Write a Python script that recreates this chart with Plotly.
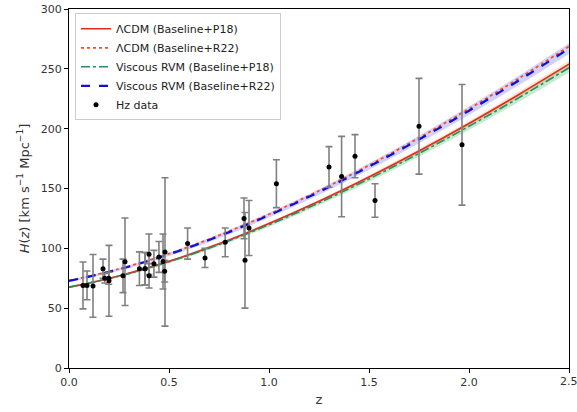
import plotly.graph_objects as go

# Hz (cosmic chronometer) data
z_data = [0.07, 0.09, 0.12, 0.17, 0.179, 0.199, 0.20, 0.27, 0.28, 0.352, 0.38, 0.3802,
          0.40, 0.4004, 0.4247, 0.4497, 0.47, 0.4783, 0.48, 0.593, 0.68, 0.781, 0.875,
          0.88, 0.90, 1.037, 1.30, 1.363, 1.43, 1.53, 1.75, 1.965]
H_data = [69.0, 69.0, 68.6, 83.0, 75.0, 75.0, 72.9, 77.0, 88.8, 83.0, 83.0, 83.0,
          95.0, 77.0, 87.1, 92.8, 89.0, 80.9, 97.0, 104.0, 92.0, 105.0, 125.0,
          90.0, 117.0, 154.0, 168.0, 160.0, 177.0, 140.0, 202.0, 186.5]
H_err = [19.6, 12.0, 26.2, 8.0, 4.0, 5.0, 29.6, 14.0, 36.6, 14.0, 13.5, 13.5,
         17.0, 10.2, 11.2, 12.9, 23.0, 9.0, 62.0, 13.0, 8.0, 12.0, 17.0,
         40.0, 23.0, 20.0, 17.0, 33.6, 18.0, 14.0, 40.0, 50.4]

z_curve = [0.0, 0.25, 0.5, 0.75, 1.0, 1.25, 1.5, 1.75, 2.0, 2.25, 2.5]
H_lcdm_p18 = [67.4, 76.9, 89.1, 103.8, 120.7, 139.3, 159.6, 181.3, 204.3, 228.6, 253.9]
H_lcdm_r22 = [73.0, 82.8, 95.5, 110.9, 128.5, 148.1, 169.4, 192.3, 216.6, 242.1, 268.8]
H_vrvm_p18 = [67.6, 76.8, 88.8, 103.2, 119.7, 138.0, 158.0, 179.3, 202.0, 225.9, 250.9]
H_vrvm_r22 = [72.7, 82.4, 95.0, 110.2, 127.7, 147.1, 168.3, 191.0, 215.0, 240.4, 266.9]
# 1-sigma band half widths
band_lcdm_p18 = [0.6, 0.7, 0.8, 1.0, 1.2, 1.4, 1.6, 1.9, 2.2, 2.5, 2.8]
band_vrvm_p18 = [0.9, 1.0, 1.2, 1.4, 1.7, 2.0, 2.3, 2.7, 3.1, 3.5, 3.9]
band_vrvm_r22 = [1.1, 1.2, 1.4, 1.7, 2.0, 2.3, 2.7, 3.1, 3.5, 4.0, 4.5]

x_tickvals = [0, 0.5, 1.0, 1.5, 2.0, 2.5]
x_ticktext = ["0.0", "0.5", "1.0", "1.5", "2.0", "2.5"]
y_tickvals = [0, 50, 100, 150, 200, 250, 300]

fig = go.Figure()


def band(y, w, color):
    up = [a + b for a, b in zip(y, w)]
    lo = [a - b for a, b in zip(y, w)]
    fig.add_trace(go.Scatter(x=z_curve, y=up, mode="lines", line=dict(width=0, shape="spline"),
                             showlegend=False, hoverinfo="skip"))
    fig.add_trace(go.Scatter(x=z_curve, y=lo, mode="lines", line=dict(width=0, shape="spline"),
                             fill="tonexty", fillcolor=color, showlegend=False, hoverinfo="skip"))


band(H_lcdm_p18, band_lcdm_p18, "rgba(255,160,90,0.30)")
band(H_vrvm_p18, band_vrvm_p18, "rgba(60,190,90,0.30)")
band(H_vrvm_r22, band_vrvm_r22, "rgba(90,90,255,0.28)")

fig.add_trace(go.Scatter(x=z_curve, y=H_lcdm_p18, mode="lines", name="ΛCDM (Baseline+P18)",
                         line=dict(color="#e8281e", width=1.6, shape="spline")))
fig.add_trace(go.Scatter(x=z_curve, y=H_lcdm_r22, mode="lines", name="ΛCDM (Baseline+R22)",
                         line=dict(color="#ff4a1a", width=1.8, dash="dot", shape="spline")))
fig.add_trace(go.Scatter(x=z_curve, y=H_vrvm_p18, mode="lines", name="Viscous RVM (Baseline+P18)",
                         line=dict(color="#2e8b62", width=1.6, dash="dashdot", shape="spline")))
fig.add_trace(go.Scatter(x=z_curve, y=H_vrvm_r22, mode="lines", name="Viscous RVM (Baseline+R22)",
                         line=dict(color="#1010d0", width=2.2, dash="dash", shape="spline")))
fig.add_trace(go.Scatter(x=z_data, y=H_data, mode="markers", name="Hz data",
                         marker=dict(color="black", size=5),
                         error_y=dict(type="data", array=H_err, visible=True, color="#808080",
                                      thickness=1.6, width=3.5)))

fig.update_layout(
    width=577, height=412,
    margin=dict(l=69, r=8, t=9, b=44),
    paper_bgcolor="white", plot_bgcolor="white",
    font=dict(family="DejaVu Sans", size=11, color="#333333"),
    legend=dict(x=0.012, y=0.988, xanchor="left", yanchor="top", traceorder="normal",
                bgcolor="rgba(255,255,255,0.9)", bordercolor="#cccccc", borderwidth=1,
                font=dict(size=11, color="#222222"), tracegroupgap=0),
)
# last tick label drawn as annotation (plotly drops labels touching the page edge)
fig.add_annotation(x=x_tickvals[-1], y=0, xref="x", yref="paper", text=x_ticktext[-1],
                   showarrow=False, yanchor="top", yshift=-5,
                   font=dict(family="DejaVu Sans", size=11, color="#333333"))
fig.update_xaxes(range=[0, 2.5], tickvals=x_tickvals,
                 ticktext=x_ticktext[:-1] + [""], automargin=False,
                 showgrid=False, zeroline=False, showline=True, linecolor="black", linewidth=1,
                 mirror=True, ticks="outside", ticklen=4, tickcolor="black",
                 title=dict(text="z", font=dict(size=13), standoff=6))
fig.update_yaxes(range=[0, 300], tickvals=y_tickvals, automargin=False,
                 showgrid=False, zeroline=False, showline=True, linecolor="black", linewidth=1,
                 mirror=True, ticks="outside", ticklen=4, tickcolor="black",
                 title=dict(text="<i>H</i>(<i>z</i>) [km s<sup>−1</sup> Mpc<sup>−1</sup>]",
                            font=dict(size=13), standoff=8))

fig.write_html("out.html")
